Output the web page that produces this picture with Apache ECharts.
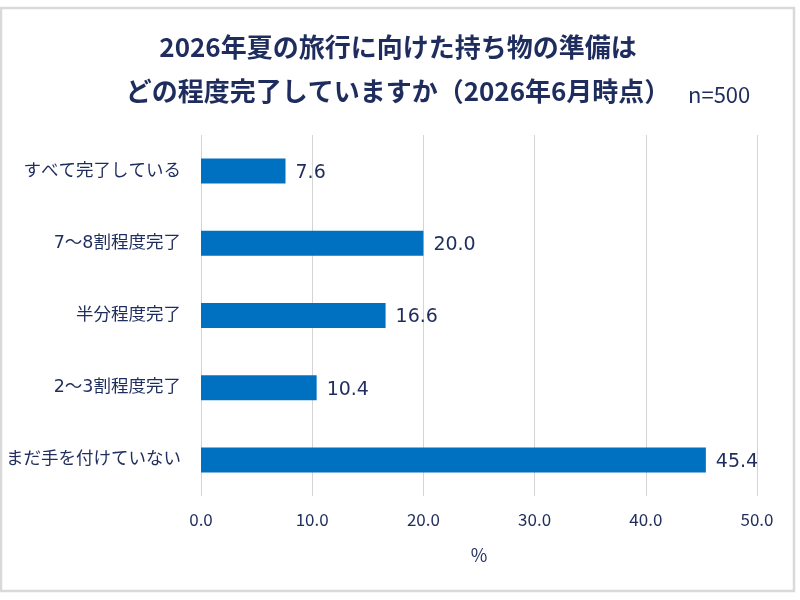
<!DOCTYPE html>
<html>
	<head>
		<meta charset="UTF-8">
		<title></title>
		<script src="https://cdn.jsdelivr.net/npm/echarts@6/dist/echarts.min.js"></script>
	</head>
	<body style="margin:0;background:#fff;">
		<div id="main" style="width:800px;height:600px;"></div>
		<script>
			// データ
			var categories = ['すべて完了している', '7～8割程度完了', '半分程度完了', '2～3割程度完了', 'まだ手を付けていない'];
			var values = [7.6, 20.0, 16.6, 10.4, 45.4];
			var axisMin = 0, axisMax = 50, axisStep = 10;
			var titleLines = ['2026年夏の旅行に向けた持ち物の準備は', 'どの程度完了していますか（2026年6月時点）'];
			var sampleText = 'n=500';

			var textColor = '#1f2d5e';
			var font = '"Noto Sans CJK JP", "Noto Sans", sans-serif';
			var numFont = '"DejaVu Sans", "Noto Sans CJK JP", sans-serif';

			var option = {
				textStyle: {fontFamily: font},
				graphic: [{
					type: 'rect',
					shape: {x: 1, y: 8, width: 793, height: 583},
					style: {fill: 'none', stroke: '#d9d9d9', lineWidth: 2.5},
					silent: true
				}, {
					// タイトル（2行、中央揃え）
					type: 'text',
					x: 398,
					y: 25,
					style: {
						text: titleLines.join('\n'),
						font: 'bold 26px ' + font,
						lineHeight: 44,
						fill: textColor,
						align: 'center',
						verticalAlign: 'top'
					}
				}, {
					type: 'text',
					left: 688,
					top: 84,
					style: {
						text: sampleText,
						font: '22px ' + font,
						fill: textColor
					}
				}],
				grid: {
					top: 135, bottom: 104, left: 201, right: 43
				},
				xAxis: {
					type: 'value',
					min: axisMin,
					max: axisMax,
					interval: axisStep,
					name: '%',
					nameLocation: 'middle',
					nameGap: 50,
					nameTextStyle: {color: textColor, fontSize: 18},
					axisLine: {show: false},
					axisTick: {show: false},
					axisLabel: {
						color: textColor,
						fontSize: 17,
						margin: 15,
						formatter: function(v) { return v.toFixed(1); }
					},
					splitLine: {lineStyle: {color: '#d4d4d4', width: 1}}
				},
				yAxis: {
					type: 'category',
					inverse: true,
					data: categories,
					axisLine: {show: false},
					axisTick: {show: false},
					axisLabel: {color: textColor, fontFamily: numFont, fontSize: 17.5, margin: 20}
				},
				series: [{
					type: 'bar',
					data: values,
					barWidth: 25,
					itemStyle: {color: '#0070c0'},
					label: {
						show: true,
						position: 'right',
						distance: 10,
						offset: [0, 2],
						color: textColor,
						fontFamily: numFont,
						fontSize: 19,
						formatter: function(p) { return p.value.toFixed(1); }
					}
				}]
			};

			var myChart = echarts.init(document.getElementById('main'));
			myChart.setOption(option);
		</script>
	</body>
</html>
